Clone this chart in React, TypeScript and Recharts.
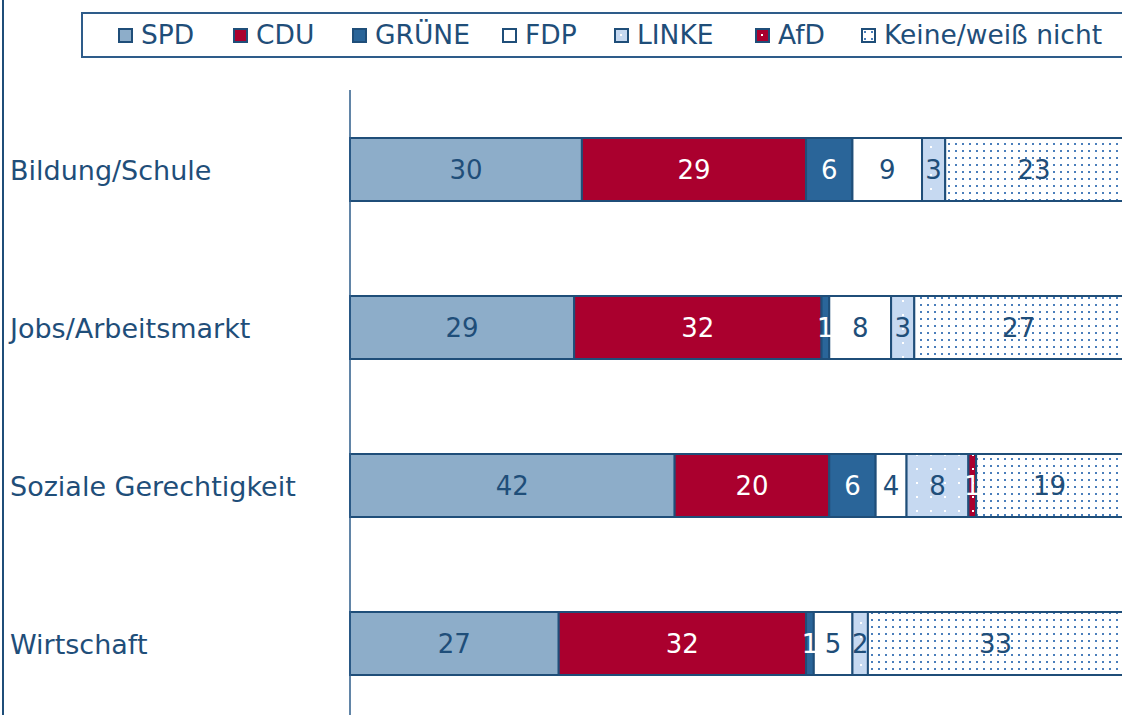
import React from 'react';
import { BarChart, Bar, XAxis, YAxis, LabelList } from 'recharts';

const categories = ['Bildung/Schule', 'Jobs/Arbeitsmarkt', 'Soziale Gerechtigkeit', 'Wirtschaft'];
const spd = [30, 29, 42, 27];
const cdu = [29, 32, 20, 32];
const gruene = [6, 1, 6, 1];
const fdp = [9, 8, 4, 5];
const linke = [3, 3, 8, 2];
const afd = [0, 0, 1, 0];
const keine = [23, 27, 19, 33];

const seriesNames = ['SPD', 'CDU', 'GRÜNE', 'FDP', 'LINKE', 'AfD', 'Keine/weiß nicht'];
const seriesKeys = ['spd', 'cdu', 'gruene', 'fdp', 'linke', 'afd', 'keine'];
const seriesFills = ['#8DADC9', '#AA002E', '#2A6599', '#FFFFFF', 'url(#linkeDots)', 'url(#afdDots)', 'url(#keineDots)'];
const labelColors = ['#1F4E79', '#FFFFFF', '#FFFFFF', '#1F4E79', '#1F4E79', '#FFFFFF', '#1F4E79'];
const legendMarkerX = [118, 233, 352, 502, 614, 755, 861];

const data = categories.map((name, i) => ({
  name,
  spd: spd[i],
  cdu: cdu[i],
  gruene: gruene[i],
  fdp: fdp[i],
  linke: linke[i],
  afd: afd[i],
  keine: keine[i],
}));

const NAVY = '#1F4E79';
const FONT = '"DejaVu Sans", Verdana, sans-serif';

const CategoryTick = (props: any) => {
  const { y, payload } = props;
  return (
    <text x={10} y={y} dy={11} textAnchor="start" fill={NAVY} fontSize={27} fontFamily={FONT}>
      {payload.value}
    </text>
  );
};

const Marker = ({ fill }: { fill: string }) => (
  <svg width={15} height={15} style={{ display: 'block' }}>
    <rect x={1} y={1} width={13} height={13} fill={fill} stroke={NAVY} strokeWidth={2} />
  </svg>
);

export default function App() {
  return (
    <div
      style={{
        position: 'absolute',
        left: 0,
        top: 0,
        width: 1122,
        height: 715,
        overflow: 'hidden',
        background: '#fff',
        fontFamily: FONT,
      }}
    >
      <svg width={0} height={0} style={{ position: 'absolute' }}>
        <defs>
          <pattern id="keineDots" patternUnits="userSpaceOnUse" width={7} height={7}>
            <rect x={0} y={0} width={7} height={7} fill="#FFFFFF" />
            <rect x={3} y={3} width={2} height={2} fill="#4A7EBB" />
          </pattern>
          <pattern id="linkeDots" patternUnits="userSpaceOnUse" width={14} height={14}>
            <rect x={0} y={0} width={14} height={14} fill="#C6D9F1" />
            <rect x={6} y={6} width={2} height={2} fill="#FFFFFF" />
          </pattern>
          <pattern id="afdDots" patternUnits="userSpaceOnUse" width={14} height={14}>
            <rect x={0} y={0} width={14} height={14} fill="#AA002E" />
            <rect x={6} y={6} width={2} height={2} fill="#FFFFFF" />
          </pattern>
        </defs>
      </svg>

      <div style={{ position: 'absolute', left: 2, top: 0, width: 2, height: 715, background: NAVY }} />

      <div
        style={{
          position: 'absolute',
          left: 81,
          top: 12,
          width: 1100,
          height: 42,
          border: '2px solid #2E5C8A',
        }}
      />
      {seriesNames.map((n, i) => (
        <div
          key={n}
          style={{ position: 'absolute', left: legendMarkerX[i], top: 20, height: 30, display: 'flex', alignItems: 'center' }}
        >
          <Marker fill={seriesFills[i]} />
          <span style={{ marginLeft: 8, fontSize: 26.5, color: NAVY, lineHeight: '30px', whiteSpace: 'nowrap' }}>{n}</span>
        </div>
      ))}

      <div style={{ position: 'absolute', left: 0, top: 0 }}>
        <BarChart
          width={1140}
          height={730}
          data={data}
          layout="vertical"
          margin={{ top: 90, right: 17, bottom: 8, left: 0 }}
        >
          <XAxis type="number" domain={[0, 100]} hide />
          <YAxis
            type="category"
            dataKey="name"
            width={350}
            axisLine={{ stroke: '#2E5C8A', strokeWidth: 1.5 }}
            tickLine={false}
            tick={<CategoryTick />}
          />
          {seriesKeys.map((k, i) => (
            <Bar
              key={k}
              dataKey={k}
              name={seriesNames[i]}
              stackId="a"
              barSize={63}
              fill={seriesFills[i]}
              stroke={NAVY}
              strokeWidth={2}
              isAnimationActive={false}
            >
              <LabelList
                dataKey={k}
                position="center"
                fill={labelColors[i]}
                fontSize={26}
                fontFamily={FONT}
                formatter={(v: any) => (v ? v : '')}
              />
            </Bar>
          ))}
        </BarChart>
      </div>
    </div>
  );
}
